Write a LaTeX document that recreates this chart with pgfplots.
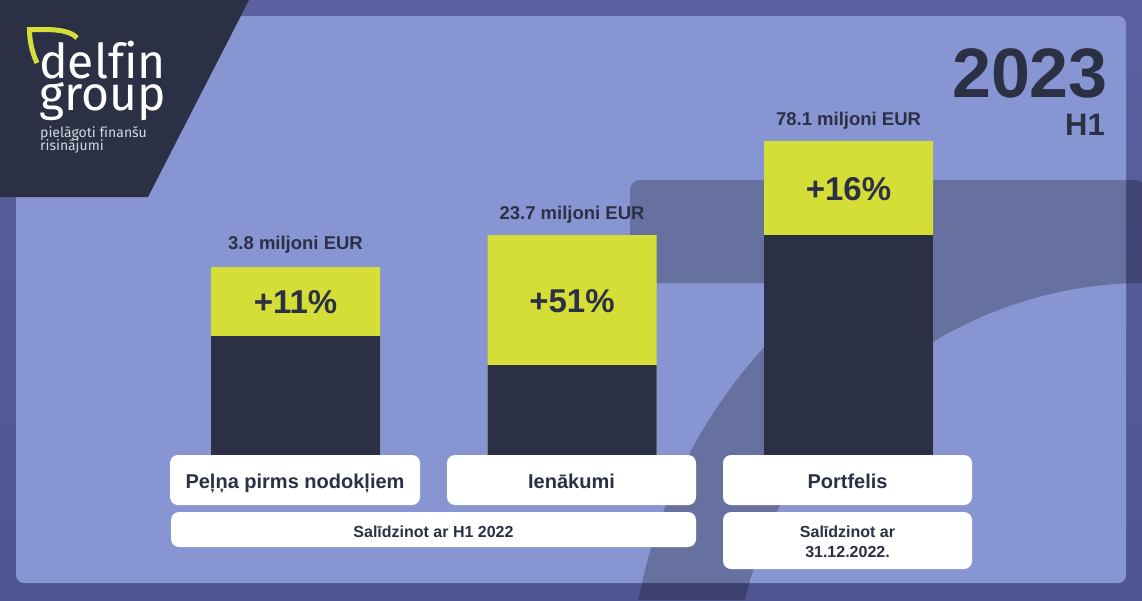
\documentclass[border=0pt]{standalone}
\usepackage{pgfplots}
\pgfplotsset{compat=1.18}
\usepackage{fontspec}
\setmainfont{Liberation Sans}
\newfontfamily\logofont[Ligatures=NoCommon]{Fira Sans}
\definecolor{frameA}{HTML}{5B61A0}
\definecolor{frameB}{HTML}{4F5590}
\definecolor{panel}{HTML}{8795D2}
\definecolor{navy}{HTML}{2B3045}
\definecolor{lime}{HTML}{D4DE37}
\definecolor{logogray}{HTML}{D6D8E0}
\begin{document}
\begin{tikzpicture}
\useasboundingbox (0pt,-600pt) rectangle (1142pt,0pt);
\clip (0pt,-600pt) rectangle (1142pt,0pt);
\begin{scope}[x=1pt,y=-1pt]
  \shade[top color=frameA,bottom color=frameB] (0,0) rectangle (1142,600);
  \fill[panel,rounded corners=8pt] (16,16) rectangle (1126,583);
  \fill[black,opacity=0.24] [rounded corners=10pt] (630,283) -- (630,180) -- (1145,180) [sharp corners] -- (1145,283)
     arc[start angle=270,end angle=193.2,radius=411] -- (638.6,600)
     arc[start angle=190.5,end angle=232.9,radius=515] -- cycle;
\end{scope}
\begin{axis}[at={(0pt,-455pt)}, anchor=south west, scale only axis,
  width=1142pt, height=455pt, xmin=-1.0687, xmax=3.0615, ymin=0, ymax=455,
  hide axis, clip=false, ybar, bar width=169pt]
  \addplot[fill=lime, draw=none, bar shift=0pt] coordinates {(0,188) (1,220) (2,314)};
  \addplot[fill=navy, draw=none, bar shift=0pt] coordinates {(0,119) (1,90) (2,220)};
  \begin{scope}[every node/.style={anchor=base, text=navy, inner sep=0pt}]
  \node[font=\bfseries\fontsize{33}{33}\selectfont] at (axis cs:0,141.5) {+11\%};
  \node[font=\bfseries\fontsize{33}{33}\selectfont] at (axis cs:1,143) {+51\%};
  \node[font=\bfseries\fontsize{33}{33}\selectfont] at (axis cs:2,255) {+16\%};
  \node[font=\bfseries\fontsize{18.5}{18.5}\selectfont] at (axis cs:0,206) {3.8 miljoni EUR};
  \node[font=\bfseries\fontsize{18.5}{18.5}\selectfont] at (axis cs:1,236) {23.7 miljoni EUR};
  \node[font=\bfseries\fontsize{18.5}{18.5}\selectfont] at (axis cs:2,330) {78.1 miljoni EUR};
  \end{scope}
\end{axis}
\begin{scope}[x=1pt,y=-1pt]
  \fill[white,rounded corners=8pt] (170,455) rectangle (420,505);
  \fill[white,rounded corners=8pt] (447,455) rectangle (696,505);
  \fill[white,rounded corners=8pt] (723,455) rectangle (972,505);
  \fill[white,rounded corners=8pt] (171,512) rectangle (696,547);
  \fill[white,rounded corners=8pt] (723,512) rectangle (972,569);
  \begin{scope}[every node/.style={anchor=base, text=navy, inner sep=0pt}]
  \node[font=\bfseries\fontsize{20}{20}\selectfont] at (295,488) {Peļņa pirms nodokļiem};
  \node[font=\bfseries\fontsize{20}{20}\selectfont] at (571.5,488) {Ienākumi};
  \node[font=\bfseries\fontsize{20}{20}\selectfont] at (847.5,488) {Portfelis};
  \node[font=\bfseries\fontsize{16}{16}\selectfont] at (433.5,537) {Salīdzinot ar H1 2022};
  \node[font=\bfseries\fontsize{16}{16}\selectfont] at (847.5,537) {Salīdzinot ar};
  \node[font=\bfseries\fontsize{16}{16}\selectfont] at (847.5,557) {31.12.2022.};
  \node[anchor=base east,font=\bfseries\fontsize{70}{70}\selectfont] at (1108,97) {2023};
  \node[anchor=base east,font=\bfseries\fontsize{31}{31}\selectfont] at (1105,135) {H1};
  \end{scope}
  % logo
  \fill[navy] (0,0) -- (249,0) -- (148,197) -- (0,197) -- cycle;
  \draw[lime, line width=5pt] (37,63) .. controls (31,50) and (29.5,38) .. (29.5,29.5) -- (45,29.5) .. controls (60,29.5) and (72,32) .. (77,38);
  \begin{scope}[every node/.style={anchor=base west, inner sep=0pt}]
  \node[text=white, font=\logofont\fontsize{48}{48}\selectfont] at (39,78) {delfin};
  \node[text=white, font=\logofont\fontsize{48}{48}\selectfont] at (39,110) {group};
  \node[text=logogray, font=\logofont\fontsize{14}{14}\selectfont] at (40,137) {pielāgoti finanšu};
  \node[text=logogray, font=\logofont\fontsize{14}{14}\selectfont] at (40,150) {risinājumi};
  \end{scope}
\end{scope}
\end{tikzpicture}
\end{document}
